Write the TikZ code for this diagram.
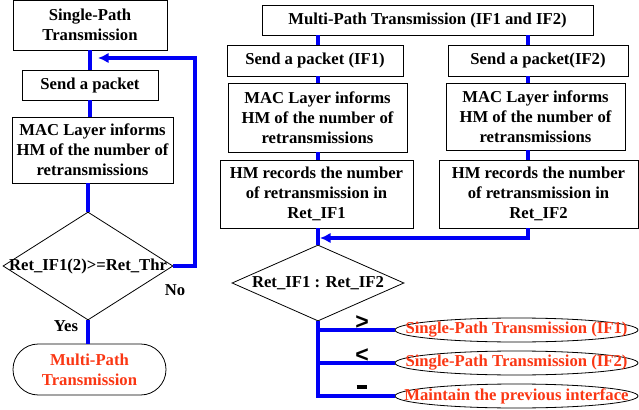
\documentclass[tikz,border=0pt]{standalone}
\usepackage{fontspec}
\setmainfont{Liberation Serif}
\setsansfont{Liberation Sans}
\usetikzlibrary{shapes.geometric, arrows.meta, positioning}
\definecolor{flowblue}{RGB}{0,0,245}
\definecolor{endred}{RGB}{250,55,20}

\tikzset{
  box/.style={draw, line width=0.6pt, align=center, inner sep=0pt,
    font=\fontsize{12.5}{15}\selectfont\bfseries},
  rhomb/.style={draw, diamond, line width=0.6pt, inner sep=0pt},
  oval/.style={draw, ellipse, line width=0.6pt, inner sep=0pt,
    minimum width=182.25pt, minimum height=18pt},
  txt/.style={align=center, inner sep=0pt, font=\fontsize{12.5}{15}\selectfont\bfseries},
  redtxt/.style={txt, text=endred},
  cmp/.style={inner sep=0pt, font=\sffamily\bfseries\LARGE},
  flow/.style={draw=flowblue, line width=3pt},
  flowarrow/.style={flow, -{Latex[length=8pt, width=8pt]}},
}

\begin{document}
\begin{tikzpicture}[x=0.75pt, y=-0.75pt]
\useasboundingbox (0,0) rectangle (639,410);

% linke Spalte: Single-Path
\node[box, minimum width=115.5pt, minimum height=37.5pt] (sp) at (90,25) {Single-Path\\Transmission};
\node[box, minimum width=102pt, minimum height=22.5pt] (send) at (90,85) {Send a packet};
\node[box, minimum width=120.75pt, minimum height=49.5pt] (mac) at (92.5,150) {MAC Layer informs\\HM of the number of\\retransmissions};
\node[rhomb, minimum width=127.5pt, minimum height=81pt] (dec) at (88,266) {};
\node[txt] (dectxt) at (dec.center) {Ret\_IF1(2)>=Ret\_Thr};
\node[box, rounded corners=19pt, minimum width=114.75pt, minimum height=38.25pt] (multi) at (89.5,369.5) {\textcolor{endred}{Multi-Path}\\\textcolor{endred}{Transmission}};
\node[txt] (no) at (175,290) {No};
\node[txt] (yes) at (66,326) {Yes};

\coordinate (turn) at (195,58);
\coordinate (back) at (98,58);

\draw[flow] (sp.south) -- (send.north);
\draw[flow] (send.south) -- (mac.north -| send);
\draw[flow] (mac.south -| dec) -- (dec.north);
\draw[flow] (dec.south) -- (multi.north -| dec);
\draw[flowarrow] (dec.east) -| (turn) -- (back);

% rechte Seite: Multi-Path
\coordinate (lc) at (318,0);
\coordinate (rc) at (528,0);
\node[box, minimum width=248.25pt, minimum height=22.5pt] (mp) at (427.5,20) {Multi-Path Transmission (IF1 and IF2)};
\node[box, minimum width=132pt, minimum height=23.25pt] (send1) at (315,60.5) {Send a packet (IF1)};
\node[box, minimum width=135pt, minimum height=23.25pt] (send2) at (538,60.5) {Send a packet(IF2)};
\node[box, minimum width=134.25pt, minimum height=51.75pt] (mac1) at (317.5,117.5) {MAC Layer informs\\HM of the number of\\retransmissions};
\node[box, minimum width=134.25pt, minimum height=50.25pt] (mac2) at (535.5,116.5) {MAC Layer informs\\HM of the number of\\retransmissions};
\node[box, minimum width=144.75pt, minimum height=51pt] (hm1) at (316.5,194) {HM records the number\\of retransmission in\\Ret\_IF1};
\node[box, minimum width=149.25pt, minimum height=51pt] (hm2) at (538.5,194) {HM records the number\\of retransmission in\\Ret\_IF2};
\node[rhomb, minimum width=129pt, minimum height=57pt] (dec2) at (318,283) {};
\node[txt] (dec2txt) at (dec2.center) {Ret\_IF1 : Ret\_IF2};

\node[oval] (e1) at (516.5,330) {};
\node[oval] (e2) at (516.5,363) {};
\node[oval] (e3) at (516.5,396) {};
\node[redtxt] (e1txt) at (e1.center) {Single-Path Transmission (IF1)};
\node[redtxt] (e2txt) at (e2.center) {Single-Path Transmission (IF2)};
\node[redtxt] (e3txt) at (e3.center) {Maintain the previous interface};

\node[cmp] (gt) at (362,323) {>};
\node[cmp] (lt) at (362,356) {<};
\node[inner sep=0pt] (eq) at (362,387) {\rule{8pt}{3.5pt}};

\coordinate (join) at (320,238);

\draw[flow] (mp.south -| lc) -- (send1.north -| lc);
\draw[flow] (mp.south -| rc) -- (send2.north -| rc);
\draw[flow] (send1.south -| lc) -- (mac1.north -| lc);
\draw[flow] (send2.south -| rc) -- (mac2.north -| rc);
\draw[flow] (mac1.south -| lc) -- (hm1.north -| lc);
\draw[flow] (mac2.south -| rc) -- (hm2.north -| rc);
\draw[flow] (hm1.south -| lc) -- (dec2.north);
\draw[flowarrow] (hm2.south -| rc) |- (join);
\draw[flow] (dec2.south) -- (dec2.south |- e3.west) -- (e3.west);
\draw[flow] (dec2.south |- e1.west) -- (e1.west);
\draw[flow] (dec2.south |- e2.west) -- (e2.west);

\end{tikzpicture}
\end{document}
